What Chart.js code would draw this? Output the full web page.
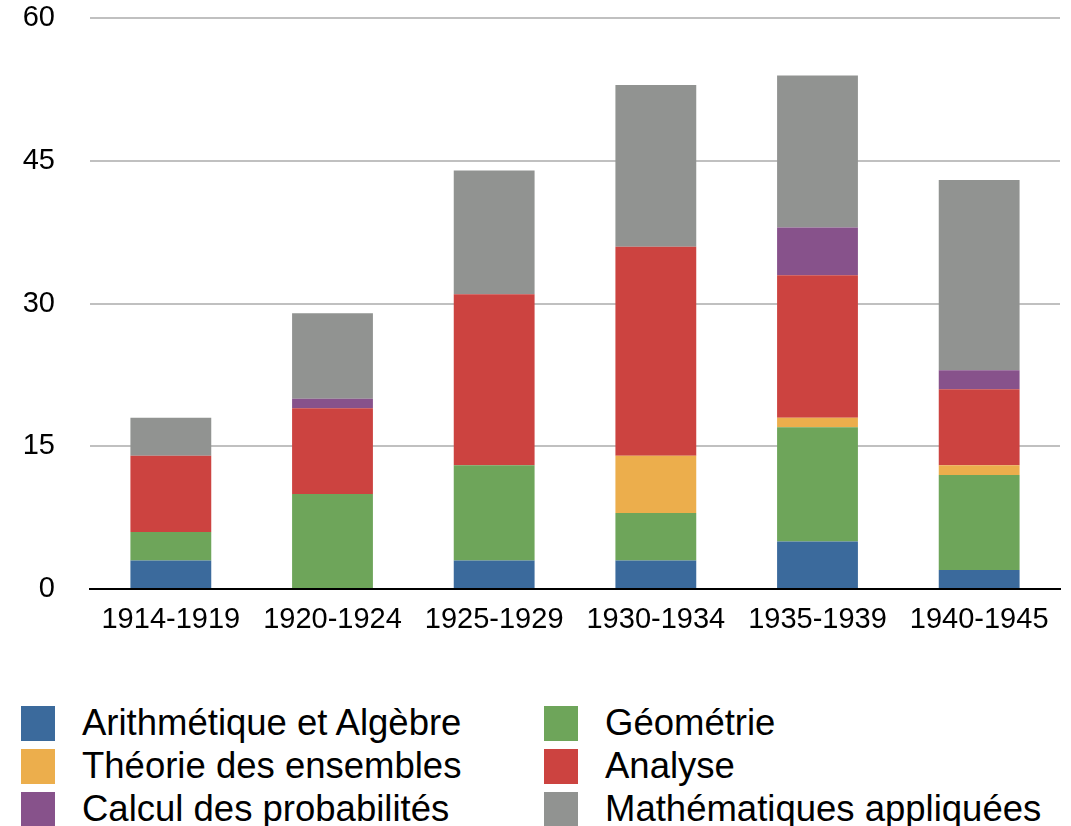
<!DOCTYPE html>
<html lang="fr">
<head>
<meta charset="utf-8">
<title>Publications par domaine</title>
<script src="https://cdn.jsdelivr.net/npm/chart.js@4"></script>
<style>
  html, body { margin: 0; padding: 0; background: #fff; }
  body { width: 1071px; height: 826px; position: relative; overflow: hidden;
         font-family: "Liberation Sans", Arial, sans-serif; }
  #graphique-wrapper { position: absolute; left: 0; top: -34px; width: 1071px; height: 678px; }
  #legende { position: absolute; left: 0; top: 705px; width: 1071px;
             display: grid; grid-template-columns: 523px 523px; row-gap: 7px; }
  .legende-item { display: flex; align-items: center; height: 36px; font-size: 36.5px;
                  color: #000; white-space: nowrap; padding-left: 21px; }
  .legende-item .carre { width: 34px; height: 35px; margin-right: 27px; flex: none; }
</style>
</head>
<body>
<div id="graphique-wrapper"><canvas id="graphique"></canvas></div>
<div id="legende"></div>
<script>
// Périodes (axe des x)
const periodes = ['1914-1919', '1920-1924', '1925-1929', '1930-1934', '1935-1939', '1940-1945'];

// Valeurs par domaine (empilées de bas en haut)
const arithmetique = [3, 0, 3, 3, 5, 2];
const geometrie = [3, 10, 10, 5, 12, 10];
const theorieEnsembles = [0, 0, 0, 6, 1, 1];
const analyse = [8, 9, 18, 22, 15, 8];
const probabilites = [0, 1, 0, 0, 5, 2];
const appliquees = [4, 9, 13, 17, 16, 20];

// Graduations de l'axe des y
const graduationsY = [0, 15, 30, 45, 60];

const series = [
  { label: 'Arithmétique et Algèbre', data: arithmetique, couleur: '#3b6a9c' },
  { label: 'Géométrie', data: geometrie, couleur: '#6ea55a' },
  { label: 'Théorie des ensembles', data: theorieEnsembles, couleur: '#ecae4c' },
  { label: 'Analyse', data: analyse, couleur: '#cc4340' },
  { label: 'Calcul des probabilités', data: probabilites, couleur: '#87528b' },
  { label: 'Mathématiques appliquées', data: appliquees, couleur: '#919391' }
];

const police = { family: '"Liberation Sans", Arial, sans-serif', size: 29 };

const ctx = document.getElementById('graphique').getContext('2d');
new Chart(ctx, {
  type: 'bar',
  data: {
    labels: periodes,
    datasets: series.map(s => ({
      label: s.label,
      data: s.data,
      backgroundColor: s.couleur,
      borderWidth: 0,
      barPercentage: 0.5,
      categoryPercentage: 1
    }))
  },
  options: {
    responsive: true,
    maintainAspectRatio: false,
    animation: false,
    layout: { padding: { top: 0, right: 11, bottom: 0, left: 0 } },
    scales: {
      x: {
        stacked: true,
        grid: { display: false, drawTicks: false },
        border: { display: true, color: '#000', width: 2 },
        ticks: { color: '#000', font: police, padding: 14, maxRotation: 0 },
        afterFit: axe => { axe.height = 55; }
      },
      y: {
        stacked: true,
        min: 0,
        max: 60,
        afterBuildTicks: axe => { axe.ticks = graduationsY.map(v => ({ value: v })); },
        grid: { color: '#c0c0c0', lineWidth: 2, drawTicks: false },
        border: { display: false },
        ticks: { color: '#000', font: police, padding: 35 },
        afterFit: axe => { axe.width = 90; }
      }
    },
    plugins: {
      legend: { display: false },
      tooltip: { enabled: false },
      title: { display: false }
    }
  }
});

// Légende en deux colonnes (même ordre que les séries)
const legende = document.getElementById('legende');
series.forEach(s => {
  const item = document.createElement('div');
  item.className = 'legende-item';
  item.innerHTML = `<span class="carre" style="background:${s.couleur}"></span><span>${s.label}</span>`;
  legende.appendChild(item);
});
</script>
</body>
</html>
